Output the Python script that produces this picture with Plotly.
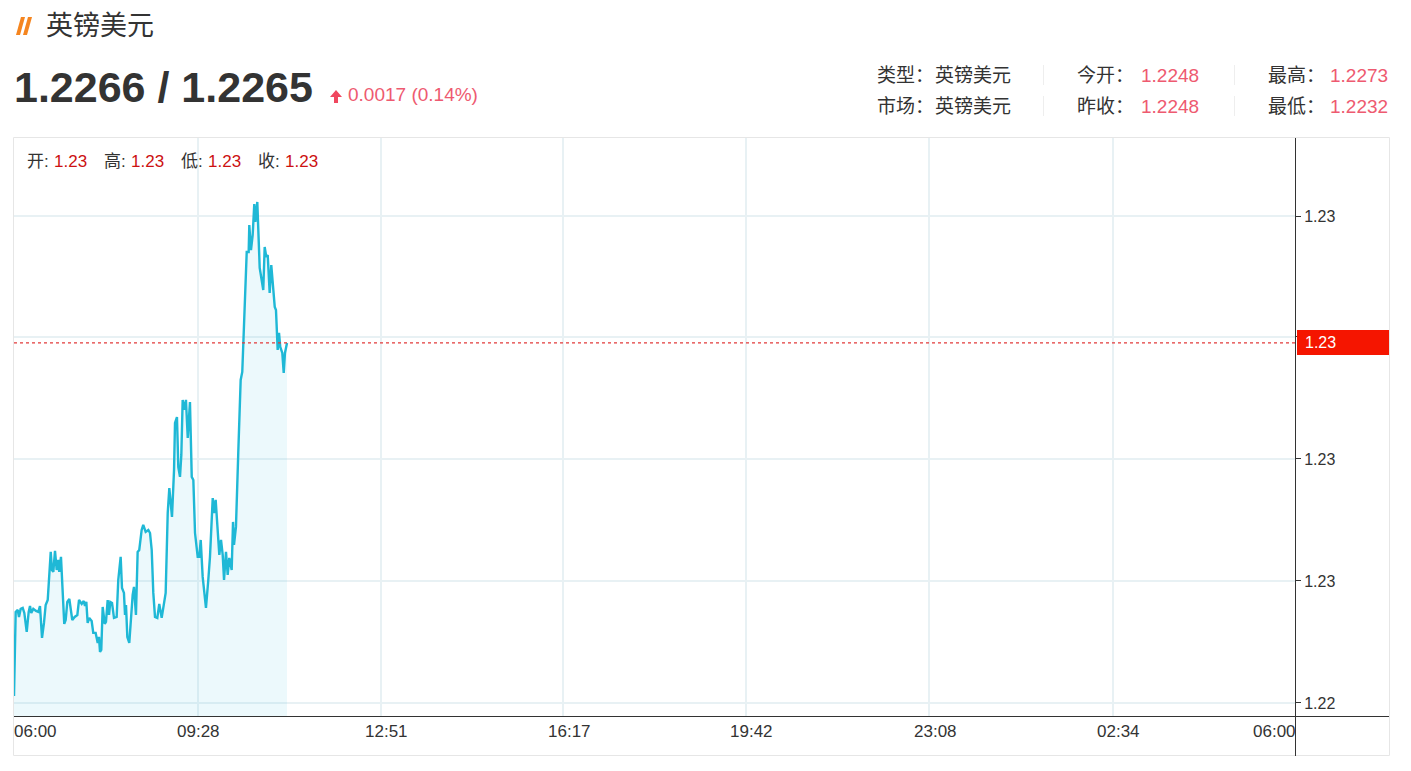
import plotly.graph_objects as go

W, H = 1411, 771
minutes = [0, 1, 1.9, 4.2, 5.6, 7.5, 9.8, 11.6, 14.3, 16.5, 18, 19.4, 21.7, 24.7, 27.3, 29.2, 31.5, 33.7, 35.6, 37.9,
           39.3, 41.3, 42.7, 44.2, 46.1, 48, 49.8, 50.9, 52.8, 54.3, 56.5, 58.1, 59.9, 62.2, 63.7, 65.5, 68.2, 71.2, 73.1, 76.1,
           78.4, 79.8, 81.3, 82.8, 84.6, 87.3, 89.1, 91.8, 94.1, 95.5, 96.7, 98.1, 99.7, 102, 103.4, 105.3, 106.8, 108.3, 110.2, 112.4,
           115.4, 117.2, 119.9, 121.4, 123.6, 124.8, 125.9, 127.4, 129.6, 131.5, 133.4, 134.9, 137.1, 139, 140.8, 143.5, 145.3, 148, 151, 152.9,
           154.8, 156.6, 158.5, 161.1, 163.3, 166, 170.5, 172.8, 174.6, 177.6, 179.9, 181, 183.2, 184.7, 186.6, 188.1, 189.6, 191.4, 193.3, 195.3,
           197.8, 199.8, 201.6, 203.5, 206.5, 208.3, 209.9, 212.1, 215.8, 218.4, 220.3, 223.4, 224.8, 226.7, 229.7, 230.8, 232.7, 234.6, 236.1, 238.3,
           240.2, 242, 244.7, 246.2, 247.3, 249.5, 252.1, 254.8, 256.6, 259.7, 261.6, 263.8, 264.5, 266.4, 268.3, 270.1, 271.3, 273.5, 275.1, 276.2,
           278.4, 280.2, 281.8, 283.6, 285.2, 287.4, 289.2, 291.1, 293.1, 294.5, 296.4, 297.9, 299.3, 301.6, 303.2, 304.6, 306.9]
prices = [1.223057, 1.223623, 1.223746, 1.223762, 1.223705, 1.223771, 1.223779, 1.223738, 1.223582, 1.223746, 1.223795, 1.223738, 1.223771, 1.223754, 1.223746, 1.223795, 1.223533, 1.223656, 1.223803, 1.223844,
          1.224008, 1.224238, 1.224090, 1.224074, 1.224246, 1.224090, 1.224172, 1.224074, 1.224197, 1.224008, 1.223648, 1.223680, 1.223828, 1.223852, 1.223787, 1.223680, 1.223705, 1.223721, 1.223844, 1.223812,
          1.223836, 1.223795, 1.223828, 1.223656, 1.223697, 1.223672, 1.223574, 1.223574, 1.223492, 1.223541, 1.223418, 1.223434, 1.223787, 1.223648, 1.223664, 1.223844, 1.223721, 1.223828, 1.223820, 1.223697,
          1.223705, 1.224008, 1.224197, 1.223943, 1.223902, 1.223721, 1.223803, 1.223541, 1.223492, 1.223705, 1.223885, 1.223951, 1.223721, 1.224238, 1.224254, 1.224418, 1.224459, 1.224402, 1.224418, 1.224393,
          1.224254, 1.223902, 1.223705, 1.223697, 1.223812, 1.223697, 1.223902, 1.224557, 1.224762, 1.224525, 1.224910, 1.225295, 1.225344, 1.224934, 1.224853, 1.225033, 1.225484, 1.225402, 1.225484, 1.225172,
          1.225467, 1.224853, 1.224828, 1.224393, 1.224197, 1.224197, 1.224336, 1.224033, 1.223779, 1.224008, 1.224197, 1.224680, 1.224557, 1.224664, 1.224336, 1.224213, 1.224336, 1.224213, 1.224008, 1.224238,
          1.224049, 1.224189, 1.224090, 1.224484, 1.224295, 1.224443, 1.225049, 1.225648, 1.225713, 1.226246, 1.226697, 1.226697, 1.226918, 1.226713, 1.226836, 1.227090, 1.226943, 1.227107, 1.226771, 1.226566,
          1.226467, 1.226385, 1.226738, 1.226656, 1.226672, 1.226361, 1.226590, 1.226410, 1.226246, 1.226221, 1.225894, 1.226033, 1.225918, 1.225869, 1.225705, 1.225869, 1.225951]
grid_minutes = [207, 412, 617, 823, 1029, 1235]
time_labels = ["06:00", "09:28", "12:51", "16:17", "19:42", "23:08", "02:34", "06:00"]
time_label_px = [12, 198, 386, 569, 752, 935, 1118, 1298]
price_ticks = [1.223, 1.224, 1.225, 1.226, 1.22699]
price_tick_text = ["1.22", "1.23", "1.23", "", "1.23"]
last_price = 1.225951
title = "英镑美元"
quote = "1.2266 / 1.2265"
change = "0.0017 (0.14%)"
info_rows = [
    ("类型：", "英镑美元", "今开：", "1.2248", "最高：", "1.2273"),
    ("市场：", "英镑美元", "昨收：", "1.2248", "最低：", "1.2232"),
]
ohlc = [("开:", "1.23"), ("高:", "1.23"), ("低:", "1.23"), ("收:", "1.23")]

FONT = "Liberation Sans, Noto Sans CJK SC, sans-serif"
DARK = "#333333"
PINK = "#ee5a70"
px = lambda v: v / W
py = lambda v: 1 - v / H

fig = go.Figure(go.Scatter(x=minutes, y=prices, mode="lines", fill="tozeroy",
                           line=dict(color="#1fb8d6", width=2.4), fillcolor="rgba(31,190,220,0.085)",
                           hoverinfo="skip"))

ann = []
def text(x, y, s, size, color=DARK, anchor="left", bold=False):
    ann.append(dict(xref="paper", yref="paper", x=px(x), y=py(y), text=f"<b>{s}</b>" if bold else s,
                    showarrow=False, xanchor=anchor, yanchor="middle",
                    font=dict(family=FONT, size=size, color=color)))

text(44, 26, title, 27)
text(12, 86.5, quote, 43, bold=True)
text(346, 94.5, change, 19, PINK)
for row, y in zip(info_rows, (76, 107)):
    text(875, y, row[0], 19)
    text(933, y, row[1], 19)
    text(1075, y, row[2], 19)
    text(1139, y, row[3], 19, PINK)
    text(1266, y, row[4], 19)
    text(1328, y, row[5], 19, PINK)
for (k, v), x in zip(ohlc, (25, 102, 179, 256)):
    text(x, 161, k, 17)
    text(x + 27, 161, v, 17, "#cc1111")
for i, (lab, x) in enumerate(zip(time_labels, time_label_px)):
    anchor = "left" if i == 0 else ("right" if i == len(time_labels) - 1 else "center")
    text(x, 731, lab, 17, anchor=anchor)
ann.append(dict(xref="paper", yref="y", x=px(1303), y=last_price, text="1.23", showarrow=False,
                xanchor="left", yanchor="middle", font=dict(family=FONT, size=16, color="#ffffff")))

def rect(x0, y0, x1, y1, **kw):
    return dict(type="rect", xref="paper", yref="paper", x0=px(x0), x1=px(x1), y0=py(y0), y1=py(y1), **kw)
def seg(x0, y0, x1, y1, color, width=1):
    return dict(type="line", xref="paper", yref="paper", x0=px(x0), x1=px(x1), y0=py(y0), y1=py(y1),
                line=dict(color=color, width=width))
def poly(points, color):
    p = "M" + " L".join(f"{px(a):.5f},{py(b):.5f}" for a, b in points) + " Z"
    return dict(type="path", xref="paper", yref="paper", path=p, fillcolor=color, line=dict(width=0))

shapes = [
    rect(13.5, 137.5, 1389.5, 755.5, line=dict(color="#e6e6e6", width=1), fillcolor="rgba(0,0,0,0)"),
    seg(14, 716.5, 1389, 716.5, "#333333"),
    seg(1295.5, 138, 1295.5, 756, "#333333"),
    rect(1297, 330, 1389, 355, line=dict(width=0), fillcolor="#f51500"),
    dict(type="line", xref="paper", yref="y", x0=px(14), x1=px(1295), y0=last_price, y1=last_price,
         line=dict(color="#e23a3a", width=1.2, dash="dot")),
    poly([(21, 17), (25, 17), (20, 35), (16, 35)], "#f5851f"),
    poly([(28, 17), (32, 17), (27, 35), (23, 35)], "#f5851f"),
    poly([(336, 90), (342, 97), (338, 97), (338, 103), (334, 103), (334, 97), (330, 97)], "#f0475f"),
]
for x in (1043.5, 1234.5):
    for y0, y1 in ((65, 85), (96, 116)):
        shapes.append(seg(x, y0, x, y1, "#eeeeee"))

fig.update_layout(
    width=W, height=H, margin=dict(l=0, r=0, t=0, b=0), autosize=False,
    paper_bgcolor="#ffffff", plot_bgcolor="#ffffff", showlegend=False,
    annotations=ann, shapes=shapes,
    xaxis=dict(domain=[px(14), px(1295)], range=[0, 1440], tickvals=grid_minutes,
               ticktext=[""] * len(grid_minutes), ticks="", showgrid=True, gridcolor="#e8f1f4", gridwidth=2,
               zeroline=False, showline=False),
    yaxis=dict(domain=[py(716), py(138)], range=[1.222893, 1.227631], side="right", tickvals=price_ticks,
               ticktext=price_tick_text, ticks="outside", ticklen=5, tickcolor="#333333", tickwidth=1,
               tickfont=dict(family=FONT, size=16, color=DARK), showgrid=True, gridcolor="#e8f1f4", gridwidth=2,
               zeroline=False, showline=False),
)
fig.write_html("out.html", config={"displayModeBar": False},
               post_script="document.body.style.margin='0';document.documentElement.style.overflow='hidden';")
